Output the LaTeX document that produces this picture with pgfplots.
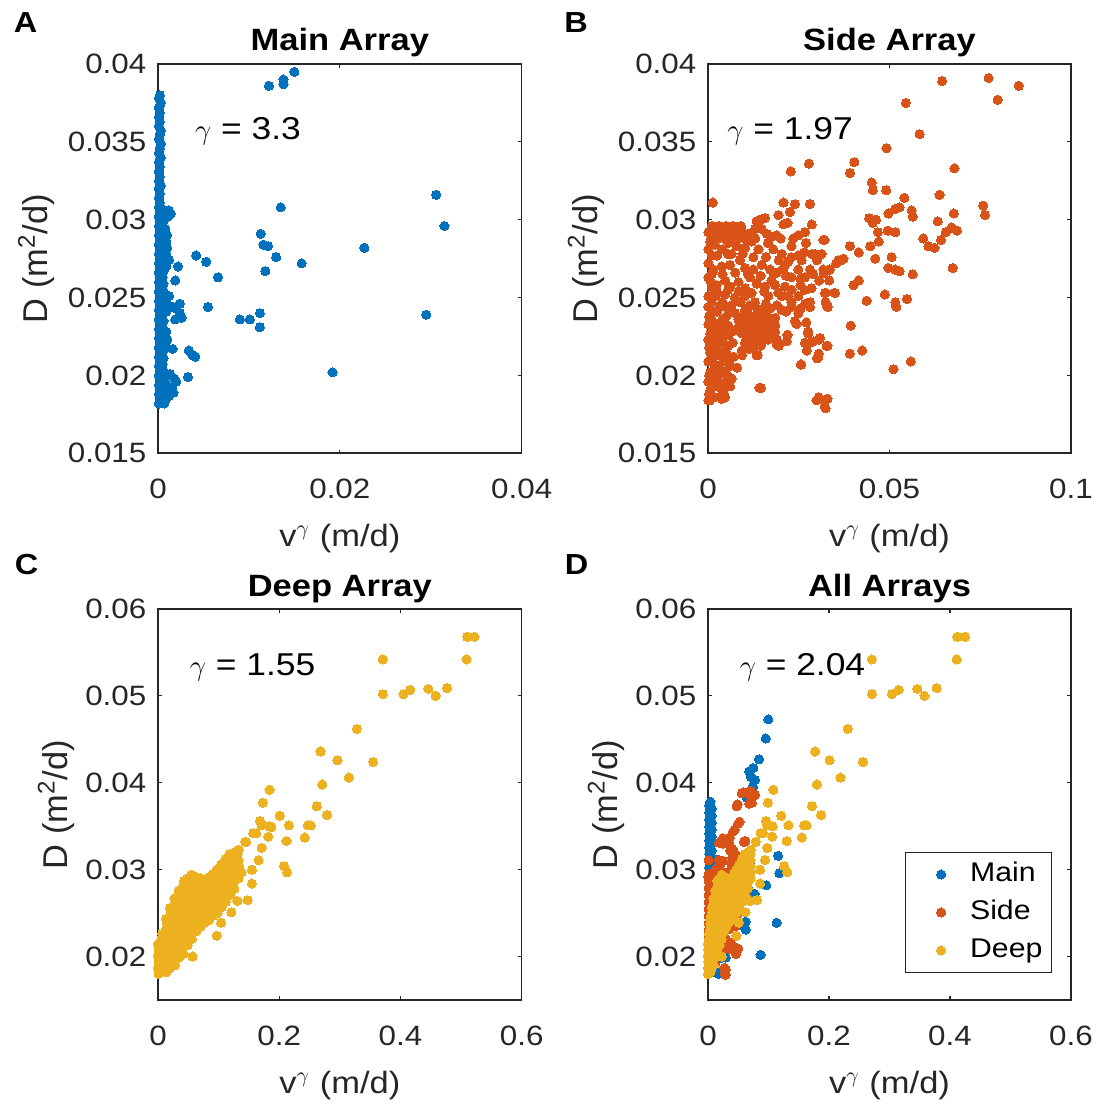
\documentclass[border=0pt]{standalone}
\usepackage{fontspec}
\setmainfont{Liberation Sans}[FakeStretch=1.12]
\newfontfamily\plainsans{Liberation Sans}
\usepackage{pgfplots}
\pgfplotsset{compat=1.18}
\definecolor{mblue}{rgb}{0,0.447,0.741}
\definecolor{morange}{rgb}{0.85,0.325,0.098}
\definecolor{myellow}{rgb}{0.929,0.694,0.125}
\definecolor{axgray}{rgb}{0.15,0.15,0.15}
\pgfplotsset{
 panel/.style={
  scale only axis, clip=false,
  axis line style={axgray,line width=0.8pt},
  every tick/.style={axgray,line width=0.6pt},
  tick align=inside, major tick length=1.8pt,
  scaled ticks=false,
  /pgf/number format/fixed, /pgf/number format/precision=3,
  /pgf/number format/assume math mode=true,
  tick label style={font=\fontsize{14}{16}\selectfont, text=axgray},
  xticklabel style={yshift=-9.3pt},
  yticklabel style={xshift=-2.3pt},
  xlabel={v$^{\gamma}$ (m/d)},
  ylabel={D (m\textsuperscript{2}/d)},
  xlabel style={font=\fontsize{15.4}{18}\selectfont, text=axgray, at={(axis description cs:0.5,0)}, anchor=base, yshift=-46.5pt},
  ylabel style={font=\plainsans\fontsize{17.2}{20}\selectfont, text=axgray, anchor=base},
  title style={font=\bfseries\fontsize{15.4}{18}\selectfont, at={(axis description cs:0.5,1)}, anchor=base, yshift=0.5pt},
  xmin=0, ymin=0.015,
 },
 mdot/.style={only marks, mark=*, mark size=2.3pt, color=#1, mark options={draw=#1, fill=#1, line width=0pt}},
 dotlegend/.style={legend image code/.code={\draw[##1, only marks, mark size=2.3pt] plot coordinates {(16pt,0pt)}; \path[draw=none] (0pt,0pt) -- (28pt,0pt);}},
}
\newcommand{\gfont}{\fontsize{15.8}{18}\selectfont}
\newcommand{\lfont}{\bfseries\fontsize{14.5}{17}\selectfont}
\begin{document}
\begin{tikzpicture}
% ---------------- A: Main Array ----------------
\begin{axis}[panel, at={(79pt,325.85pt)}, anchor=south west, width=181.85pt, height=194.65pt,
  xmax=0.04, ymax=0.04, xtick={0,0.02,0.04}, ytick={0.015,0.02,0.025,0.03,0.035,0.04},
  title={Main Array}, ylabel style={at={(axis description cs:-0.304,0.5)}}]
\addplot[mdot=mblue] coordinates {
(0.0001,0.0182)(0.0002,0.0185)(0.0001,0.0188)(0.0002,0.0191)(0.0001,0.0194)(0.0002,0.0197)(0.0001,0.0200)(0.0002,0.0203)(0.0001,0.0206)(0.0002,0.0209)
(0.0001,0.0212)(0.0002,0.0215)(0.0001,0.0218)(0.0002,0.0221)(0.0001,0.0224)(0.0002,0.0227)(0.0001,0.0230)(0.0002,0.0233)(0.0001,0.0236)(0.0002,0.0239)
(0.0001,0.0242)(0.0002,0.0245)(0.0001,0.0248)(0.0002,0.0251)(0.0001,0.0254)(0.0002,0.0257)(0.0001,0.0260)(0.0002,0.0263)(0.0001,0.0266)(0.0002,0.0269)
(0.0001,0.0272)(0.0002,0.0275)(0.0001,0.0278)(0.0002,0.0281)(0.0001,0.0284)(0.0002,0.0287)(0.0001,0.0290)(0.0002,0.0293)(0.0001,0.0296)(0.0002,0.0299)
(0.0001,0.0302)(0.0002,0.0305)(0.0001,0.0308)(0.0002,0.0311)(0.0001,0.0314)(0.0002,0.0317)(0.0001,0.0320)(0.0003,0.0322)(0.0001,0.0325)(0.0002,0.0328)
(0.0001,0.0331)(0.0002,0.0334)(0.0001,0.0337)(0.0003,0.0340)(0.0001,0.0343)(0.0002,0.0346)(0.0003,0.0349)(0.0001,0.0352)(0.0002,0.0355)(0.0003,0.0357)
(0.0001,0.0360)(0.0002,0.0363)(0.0001,0.0366)(0.0002,0.0369)(0.0001,0.0372)(0.0003,0.0375)(0.0001,0.0378)(0.0002,0.0380)
(0.0005,0.0183)(0.0006,0.0187)(0.0005,0.0191)(0.0006,0.0195)(0.0005,0.0199)(0.0006,0.0203)(0.0005,0.0207)(0.0006,0.0211)(0.0005,0.0215)(0.0006,0.0219)
(0.0005,0.0223)(0.0006,0.0227)(0.0005,0.0231)(0.0006,0.0235)(0.0005,0.0239)(0.0006,0.0243)(0.0005,0.0247)(0.0006,0.0251)(0.0005,0.0255)(0.0006,0.0259)
(0.0005,0.0263)(0.0006,0.0267)(0.0005,0.0271)(0.0006,0.0275)(0.0005,0.0279)(0.0006,0.0283)(0.0005,0.0287)(0.0006,0.0291)(0.0005,0.0295)(0.0006,0.0299)
(0.0005,0.0303)(0.0004,0.0307)
(0.0009,0.0185)(0.0010,0.0189)(0.0009,0.0194)(0.0008,0.0199)(0.0009,0.0218)(0.0010,0.0223)(0.0009,0.0228)(0.0009,0.0241)(0.0010,0.0246)(0.0009,0.0252)
(0.0009,0.0270)(0.0010,0.0274)(0.0009,0.0278)(0.0010,0.0282)(0.0009,0.0286)(0.0010,0.0290)(0.0008,0.0294)
(0.0150,0.0395)(0.0138,0.0390)(0.0138,0.0387)(0.0122,0.0386)(0.0306,0.0316)(0.0315,0.0296)(0.0135,0.0308)(0.0227,0.0282)(0.0158,0.0272)
(0.0113,0.0291)(0.0116,0.0284)(0.0121,0.0283)(0.0130,0.0276)(0.0118,0.0267)(0.0066,0.0263)(0.0053,0.0273)(0.0042,0.0277)(0.0055,0.0244)
(0.0090,0.0236)(0.0101,0.0236)(0.0112,0.0240)(0.0112,0.0231)(0.0295,0.0239)(0.0192,0.0202)(0.0033,0.0199)(0.0034,0.0216)(0.0038,0.0213)
(0.0041,0.0212)(0.0016,0.0217)(0.0022,0.0270)(0.0019,0.0261)(0.0012,0.0251)(0.0024,0.0246)(0.0016,0.0244)(0.0026,0.0237)(0.0019,0.0236)
(0.0012,0.0274)(0.0012,0.0306)(0.0011,0.0302)(0.0014,0.0304)(0.0018,0.0198)(0.0015,0.0192)(0.0017,0.0189)(0.0012,0.0187)(0.0007,0.0182)
(0.0013,0.0201)(0.0020,0.0196)(0.0024,0.0240)(0.0020,0.0243)
};
\node[anchor=base west, inner sep=0pt, font=\gfont] at (axis cs:0.00404,0.03512) {$\gamma$ = 3.3};
\end{axis}
% ---------------- B: Side Array ----------------
\begin{axis}[panel, at={(354pt,325.85pt)}, anchor=south west, width=181.5pt, height=194.65pt,
  xmax=0.1, ymax=0.04, xtick={0,0.05,0.1}, ytick={0.015,0.02,0.025,0.03,0.035,0.04},
  title={Side Array}, ylabel style={at={(axis description cs:-0.305,0.5)}}]
\addplot[mdot=morange] coordinates {
(0.0773,0.0391)(0.0856,0.0386)(0.0798,0.0377)(0.0645,0.0389)(0.0545,0.0375)(0.0583,0.0355)(0.0492,0.0346)(0.0679,0.0333)(0.0403,0.0337)(0.0391,0.0330)
(0.0278,0.0336)(0.0228,0.0331)(0.0013,0.0311)(0.0638,0.0316)(0.0541,0.0314)(0.0758,0.0309)(0.0763,0.0303)(0.0677,0.0304)(0.0451,0.0324)(0.0454,0.0319)
(0.0491,0.0319)(0.0516,0.0307)(0.0528,0.0308)(0.0497,0.0304)(0.0561,0.0306)(0.0564,0.0302)(0.0444,0.0301)(0.0463,0.0300)(0.0454,0.0298)(0.0468,0.0292)
(0.0495,0.0293)(0.0516,0.0292)(0.0633,0.0299)(0.0655,0.0292)(0.0671,0.0295)(0.0686,0.0293)(0.0642,0.0287)(0.0593,0.0288)(0.0607,0.0283)(0.0624,0.0282)
(0.0674,0.0269)(0.0564,0.0265)(0.0506,0.0276)(0.0497,0.0269)(0.0516,0.0268)(0.0528,0.0267)(0.0470,0.0286)(0.0447,0.0283)(0.0461,0.0275)(0.0487,0.0252)
(0.0516,0.0247)(0.0519,0.0244)(0.0548,0.0249)(0.0437,0.0248)(0.0415,0.0261)(0.0401,0.0258)(0.0391,0.0283)(0.0415,0.0279)(0.0353,0.0272)(0.0367,0.0274)
(0.0334,0.0268)(0.0319,0.0266)(0.0321,0.0287)(0.0313,0.0278)(0.0300,0.0274)(0.0334,0.0261)(0.0324,0.0253)(0.0348,0.0253)(0.0324,0.0247)(0.0329,0.0244)
(0.0393,0.0232)(0.0391,0.0214)(0.0425,0.0216)(0.0511,0.0204)(0.0559,0.0209)(0.0305,0.0186)(0.0329,0.0185)(0.0324,0.0179)(0.0142,0.0192)(0.0137,0.0213)
(0.0257,0.0207)(0.0300,0.0211)(0.0305,0.0214)(0.0329,0.0219)(0.0281,0.0221)(0.0305,0.0223)(0.0276,0.0228)(0.0195,0.0219)(0.0219,0.0226)(0.0190,0.0223)
(0.0271,0.0234)(0.0094,0.0213)(0.0035,0.0186)(0.0045,0.0187)(0.0005,0.0184)
(0.0208,0.0311)(0.0240,0.0310)(0.0281,0.0310)(0.0226,0.0305)(0.0194,0.0303)(0.0157,0.0301)(0.0134,0.0299)(0.0143,0.0300)(0.0219,0.0298)(0.0286,0.0297)(0.0267,0.0292)(0.0249,0.0290)
(0.0001,0.0292)(0.0019,0.0293)(0.0038,0.0292)(0.0056,0.0293)(0.0074,0.0292)(0.0093,0.0293)(0.0111,0.0291)(0.0129,0.0294)(0.0148,0.0294)(0.0162,0.0291)(0.0175,0.0289)(0.0189,0.0290)(0.0208,0.0297)(0.0010,0.0289)(0.0006,0.0286)
(0.0001,0.0281)(0.0019,0.0284)(0.0056,0.0285)(0.0079,0.0283)(0.0102,0.0282)(0.0120,0.0286)(0.0139,0.0281)(0.0180,0.0281)(0.0203,0.0278)(0.0230,0.0283)(0.0249,0.0277)(0.0286,0.0278)(0.0258,0.0274)(0.0221,0.0273)
(0.0001,0.0272)(0.0015,0.0268)(0.0038,0.0270)(0.0061,0.0271)(0.0088,0.0274)(0.0102,0.0269)(0.0125,0.0268)(0.0148,0.0271)(0.0171,0.0268)(0.0189,0.0266)(0.0208,0.0269)(0.0230,0.0263)(0.0249,0.0268)(0.0267,0.0263)(0.0281,0.0268)(0.0295,0.0278)
(0.0006,0.0261)(0.0024,0.0258)(0.0047,0.0261)(0.0061,0.0257)(0.0084,0.0260)(0.0102,0.0256)(0.0116,0.0263)(0.0134,0.0259)(0.0157,0.0257)(0.0175,0.0261)(0.0194,0.0253)(0.0212,0.0257)
(0.0230,0.0255)(0.0249,0.0251)(0.0267,0.0255)(0.0281,0.0247)(0.0019,0.0251)(0.0047,0.0252)(0.0074,0.0250)(0.0102,0.0251)(0.0129,0.0247)(0.0166,0.0251)(0.0203,0.0251)(0.0230,0.0247)
(0.0001,0.0244)(0.0015,0.0241)(0.0033,0.0244)(0.0051,0.0238)(0.0074,0.0240)(0.0102,0.0242)(0.0125,0.0238)(0.0148,0.0241)(0.0171,0.0243)(0.0185,0.0237)(0.0203,0.0242)(0.0230,0.0244)(0.0249,0.0240)(0.0267,0.0246)(0.0281,0.0244)
(0.0084,0.0236)(0.0102,0.0233)(0.0116,0.0236)(0.0129,0.0231)(0.0148,0.0235)(0.0162,0.0231)(0.0175,0.0233)(0.0093,0.0227)(0.0111,0.0225)(0.0129,0.0227)(0.0148,0.0226)(0.0166,0.0228)
(0.0102,0.0221)(0.0120,0.0220)(0.0139,0.0222)(0.0093,0.0216)(0.0185,0.0223)(0.0189,0.0220)(0.0019,0.0233)(0.0038,0.0231)(0.0056,0.0232)(0.0074,0.0229)(0.0006,0.0227)(0.0028,0.0225)(0.0056,0.0226)(0.0240,0.0235)
(0.0001,0.0223)(0.0019,0.0221)(0.0042,0.0221)(0.0006,0.0215)(0.0028,0.0213)(0.0051,0.0214)(0.0001,0.0209)(0.0019,0.0207)(0.0042,0.0209)(0.0061,0.0206)(0.0006,0.0202)(0.0028,0.0200)
(0.0051,0.0201)(0.0065,0.0198)(0.0001,0.0196)(0.0019,0.0195)(0.0042,0.0195)(0.0061,0.0193)(0.0006,0.0190)(0.0001,0.0184)(0.0019,0.0186)(0.0038,0.0185)(0.0047,0.0186)(0.0001,0.0233)
(0.0015,0.0231)(0.0001,0.0251)(0.0010,0.0257)(0.0001,0.0263)(0.0003,0.0238)(0.0003,0.0218)(0.0003,0.0200)(0.0003,0.0188)
(0.0134,0.0213)(0.0146,0.0192)(0.0256,0.0207)(0.0276,0.0227)(0.0290,0.0222)(0.0309,0.0224)(0.0304,0.0212)(0.0327,0.0219)(0.0267,0.0221)(0.0272,0.0216)(0.0299,0.0184)(0.0322,0.0184)
(0.0322,0.0180)(0.0318,0.0287)(0.0306,0.0261)(0.0318,0.0268)(0.0336,0.0268)(0.0350,0.0253)(0.0322,0.0253)(0.0330,0.0244)(0.0359,0.0274)(0.0373,0.0275)(0.0244,0.0233)(0.0217,0.0222)
(0.0010,0.0187)(0.0040,0.0190)(0.0025,0.0193)(0.0055,0.0196)(0.0010,0.0199)(0.0040,0.0203)(0.0025,0.0205)(0.0055,0.0209)(0.0010,0.0211)(0.0040,0.0215)
(0.0025,0.0217)(0.0055,0.0219)(0.0010,0.0219)(0.0040,0.0225)(0.0025,0.0229)(0.0055,0.0229)(0.0010,0.0236)(0.0040,0.0236)(0.0025,0.0241)(0.0055,0.0243)
(0.0010,0.0247)(0.0040,0.0247)(0.0025,0.0253)(0.0055,0.0255)(0.0010,0.0265)(0.0040,0.0265)(0.0025,0.0277)(0.0055,0.0278)(0.0010,0.0277)(0.0040,0.0281)
(0.0025,0.0289)(0.0055,0.0289)
(0.0028,0.0288)(0.0047,0.0288)(0.0065,0.0288)(0.0084,0.0288)(0.0102,0.0288)(0.0120,0.0290)(0.0010,0.0296)(0.0030,0.0296)(0.0050,0.0296)(0.0070,0.0296)(0.0090,0.0296)
(0.0130,0.0288)(0.0165,0.0285)(0.0200,0.0288)(0.0235,0.0288)(0.0270,0.0285)
(0.0065,0.0278)(0.0095,0.0278)(0.0125,0.0276)(0.0160,0.0276)(0.0195,0.0274)(0.0230,0.0276)(0.0265,0.0279)
(0.0075,0.0266)(0.0110,0.0265)(0.0145,0.0264)(0.0180,0.0266)(0.0215,0.0264)(0.0255,0.0262)(0.0290,0.0265)
(0.0085,0.0254)(0.0120,0.0253)(0.0155,0.0254)(0.0185,0.0258)(0.0220,0.0251)(0.0255,0.0258)(0.0285,0.0256)
(0.0065,0.0245)(0.0090,0.0247)(0.0115,0.0245)(0.0135,0.0243)(0.0160,0.0246)(0.0190,0.0245)(0.0215,0.0241)(0.0255,0.0243)
(0.0095,0.0238)(0.0110,0.0240)(0.0125,0.0234)(0.0140,0.0238)(0.0155,0.0238)(0.0170,0.0237)(0.0185,0.0232)
(0.0095,0.0230)(0.0110,0.0229)(0.0125,0.0230)(0.0140,0.0231)(0.0155,0.0229)(0.0170,0.0225)(0.0185,0.0228)
(0.0105,0.0223)(0.0118,0.0224)(0.0132,0.0225)(0.0150,0.0222)(0.0165,0.0223)(0.0112,0.0217)(0.0128,0.0218)(0.0145,0.0219)
(0.0045,0.0236)(0.0065,0.0228)(0.0085,0.0231)(0.0068,0.0221)(0.0070,0.0212)(0.0080,0.0205)
};
\node[anchor=base west, inner sep=0pt, font=\gfont] at (axis cs:0.00523,0.03512) {$\gamma$ = 1.97};
\end{axis}
% ---------------- C: Deep Array ----------------
\begin{axis}[panel, at={(79pt,52.5pt)}, anchor=south west, width=181.85pt, height=195.5pt,
  xmax=0.6, ymax=0.06, xtick={0,0.2,0.4,0.6}, ytick={0.02,0.03,0.04,0.05,0.06},
  title={Deep Array}, ylabel style={at={(axis description cs:-0.25,0.5)}}]
\addplot[mdot=myellow] coordinates {
(0.001,0.0180)(0.000,0.0187)(0.001,0.0194)(0.000,0.0201)(0.001,0.0208)(0.000,0.0214)
(0.007,0.0184)(0.006,0.0191)(0.008,0.0198)(0.006,0.0205)(0.007,0.0212)(0.005,0.0219)(0.007,0.0226)
(0.014,0.0182)(0.013,0.0189)(0.015,0.0196)(0.013,0.0203)(0.014,0.0210)(0.012,0.0217)(0.014,0.0224)(0.013,0.0231)(0.015,0.0238)(0.013,0.0243)
(0.020,0.0187)(0.022,0.0194)(0.021,0.0201)(0.019,0.0208)(0.021,0.0215)(0.022,0.0222)(0.020,0.0229)(0.021,0.0236)(0.019,0.0243)(0.021,0.0250)(0.020,0.0256)
(0.028,0.0190)(0.027,0.0197)(0.029,0.0204)(0.028,0.0211)(0.026,0.0218)(0.028,0.0225)(0.029,0.0232)(0.027,0.0239)(0.028,0.0246)(0.026,0.0253)(0.028,0.0260)(0.027,0.0267)
(0.035,0.0199)(0.034,0.0206)(0.036,0.0213)(0.035,0.0220)(0.033,0.0227)(0.035,0.0234)(0.036,0.0241)(0.034,0.0248)(0.035,0.0255)(0.033,0.0262)(0.035,0.0269)(0.034,0.0276)
(0.042,0.0203)(0.041,0.0210)(0.043,0.0217)(0.042,0.0224)(0.040,0.0231)(0.042,0.0238)(0.043,0.0245)(0.041,0.0252)(0.042,0.0259)(0.040,0.0266)(0.042,0.0273)(0.041,0.0280)(0.043,0.0287)
(0.049,0.0213)(0.048,0.0220)(0.050,0.0227)(0.049,0.0234)(0.047,0.0241)(0.049,0.0248)(0.050,0.0255)(0.048,0.0262)(0.049,0.0269)(0.047,0.0276)(0.049,0.0283)(0.048,0.0290)
(0.056,0.0220)(0.055,0.0227)(0.057,0.0234)(0.056,0.0241)(0.054,0.0248)(0.056,0.0255)(0.057,0.0262)(0.055,0.0269)(0.056,0.0276)(0.054,0.0283)(0.056,0.0290)(0.055,0.0294)
(0.063,0.0229)(0.062,0.0236)(0.064,0.0243)(0.063,0.0250)(0.061,0.0257)(0.063,0.0264)(0.064,0.0271)(0.062,0.0278)(0.063,0.0285)(0.061,0.0292)
(0.070,0.0234)(0.069,0.0241)(0.071,0.0248)(0.070,0.0255)(0.068,0.0262)(0.070,0.0269)(0.071,0.0276)(0.069,0.0283)(0.070,0.0290)
(0.077,0.0239)(0.076,0.0246)(0.078,0.0253)(0.077,0.0260)(0.075,0.0267)(0.077,0.0274)(0.078,0.0281)(0.076,0.0288)
(0.084,0.0242)(0.083,0.0249)(0.085,0.0256)(0.084,0.0263)(0.082,0.0270)(0.084,0.0277)(0.085,0.0284)(0.083,0.0291)
(0.091,0.0247)(0.090,0.0254)(0.092,0.0261)(0.091,0.0268)(0.089,0.0275)(0.091,0.0282)(0.092,0.0289)(0.090,0.0295)
(0.098,0.0250)(0.097,0.0257)(0.099,0.0264)(0.098,0.0271)(0.096,0.0278)(0.098,0.0285)(0.099,0.0292)(0.097,0.0300)
(0.105,0.0257)(0.104,0.0264)(0.106,0.0271)(0.105,0.0278)(0.103,0.0285)(0.105,0.0292)(0.106,0.0299)(0.104,0.0306)
(0.112,0.0263)(0.111,0.0270)(0.113,0.0277)(0.112,0.0284)(0.110,0.0291)(0.112,0.0298)(0.113,0.0305)(0.111,0.0312)
(0.119,0.0271)(0.118,0.0278)(0.120,0.0285)(0.119,0.0292)(0.117,0.0299)(0.119,0.0306)(0.120,0.0313)(0.118,0.0318)
(0.126,0.0278)(0.125,0.0285)(0.127,0.0292)(0.126,0.0299)(0.124,0.0306)(0.126,0.0313)(0.127,0.0320)
(0.133,0.0290)(0.132,0.0297)(0.134,0.0304)(0.133,0.0311)(0.131,0.0318)(0.133,0.0323)
(0.510,0.0568)(0.522,0.0568)(0.509,0.0542)(0.371,0.0542)(0.371,0.0502)(0.405,0.0502)(0.416,0.0507)(0.446,0.0508)(0.458,0.0500)(0.477,0.0509)
(0.328,0.0462)(0.268,0.0436)(0.296,0.0426)(0.355,0.0424)(0.315,0.0406)(0.271,0.0398)(0.262,0.0373)(0.279,0.0363)(0.184,0.0392)(0.173,0.0377)
(0.201,0.0362)(0.216,0.0351)(0.212,0.0333)(0.208,0.0304)(0.213,0.0297)(0.247,0.0351)(0.252,0.0351)(0.242,0.0337)(0.168,0.0356)(0.183,0.0350)
(0.182,0.0338)(0.171,0.0325)(0.166,0.0311)(0.155,0.0300)(0.155,0.0284)(0.148,0.0265)(0.131,0.0264)(0.121,0.0251)(0.104,0.0239)(0.097,0.0224)
(0.057,0.0200)(0.145,0.0332)(0.157,0.0342)(0.162,0.0342)(0.171,0.0351)(0.187,0.0349)(0.144,0.0332)(0.169,0.0355)(0.138,0.0297)
};
\node[anchor=base west, inner sep=0pt, font=\gfont] at (axis cs:0.0519,0.0523) {$\gamma$ = 1.55};
\end{axis}
% ---------------- D: All Arrays ----------------
\begin{axis}[panel, at={(354pt,52.5pt)}, anchor=south west, width=181.5pt, height=195.5pt,
  xmax=0.6, ymax=0.06, xtick={0,0.2,0.4,0.6}, ytick={0.02,0.03,0.04,0.05,0.06},
  title={All Arrays}, ylabel style={at={(axis description cs:-0.25,0.5)}},
  legend style={at={(0.9477,0.069)}, anchor=south east, draw=axgray, line width=0.6pt,
    font=\fontsize{13.5}{16}\selectfont, inner xsep=2pt, inner ysep=1.5pt,
    nodes={text height=10.5pt, text depth=3.5pt, inner sep=2.5pt}},
  legend cell align=left]
\addplot[mdot=mblue, dotlegend] coordinates {
(0.002,0.0182)(0.006,0.0186)(0.002,0.0190)(0.006,0.0194)(0.002,0.0198)(0.006,0.0202)(0.002,0.0206)(0.006,0.0210)(0.002,0.0214)(0.006,0.0218)
(0.002,0.0222)(0.006,0.0226)(0.002,0.0230)(0.006,0.0234)(0.002,0.0238)(0.006,0.0242)(0.002,0.0246)(0.006,0.0250)(0.002,0.0254)(0.006,0.0258)
(0.002,0.0262)(0.006,0.0266)(0.002,0.0270)(0.006,0.0274)(0.002,0.0278)(0.006,0.0282)(0.002,0.0286)(0.006,0.0290)(0.002,0.0294)(0.006,0.0298)
(0.002,0.0302)(0.006,0.0306)(0.002,0.0310)(0.006,0.0314)(0.002,0.0318)(0.006,0.0322)(0.002,0.0326)(0.006,0.0330)(0.002,0.0334)(0.006,0.0338)
(0.002,0.0342)(0.006,0.0346)(0.002,0.0350)(0.006,0.0354)(0.002,0.0358)(0.006,0.0362)(0.002,0.0366)(0.006,0.0370)(0.002,0.0374)(0.004,0.0378)
(0.009,0.0300)(0.009,0.0306)(0.010,0.0312)(0.009,0.0290)
(0.0746,0.0395)(0.0709,0.0390)(0.0709,0.0387)(0.0657,0.0386)(0.1159,0.0316)(0.1180,0.0296)(0.0700,0.0308)(0.0964,0.0282)(0.0770,0.0272)
(0.0626,0.0291)(0.0636,0.0284)(0.0650,0.0283)(0.0683,0.0276)(0.0643,0.0267)(0.0449,0.0263)(0.0392,0.0273)(0.0340,0.0277)(0.0401,0.0244)
(0.0544,0.0236)(0.0584,0.0236)(0.0622,0.0240)(0.0622,0.0231)(0.1134,0.0239)(0.0869,0.0202)(0.0293,0.0199)(0.0298,0.0216)(0.0319,0.0213)
(0.0187,0.0217)(0.0228,0.0270)(0.0208,0.0261)(0.0157,0.0251)(0.0240,0.0246)(0.0157,0.0306)(0.0201,0.0198)(0.0112,0.0182)(0.0171,0.0180)(0.0273,0.0185)
(0.0997,0.0473)(0.0953,0.0451)(0.0843,0.0427)(0.0749,0.0417)(0.0678,0.0413)(0.0705,0.0407)(0.0777,0.0403)(0.0740,0.0396)(0.0640,0.0383)
};
\addlegendentry{Main}
\addplot[mdot=morange, dotlegend] coordinates {
(0.001,0.0183)(0.004,0.0187)(0.001,0.0191)(0.004,0.0195)(0.001,0.0199)(0.004,0.0203)(0.001,0.0207)(0.004,0.0211)(0.001,0.0215)(0.004,0.0219)
(0.001,0.0223)(0.004,0.0227)(0.001,0.0231)(0.004,0.0235)(0.001,0.0239)(0.004,0.0243)(0.001,0.0247)(0.004,0.0251)(0.001,0.0255)(0.004,0.0259)
(0.001,0.0263)(0.004,0.0267)(0.001,0.0271)(0.004,0.0275)(0.001,0.0279)(0.004,0.0283)(0.001,0.0287)(0.004,0.0291)(0.001,0.0295)
(0.0182,0.0311)(0.0210,0.0310)(0.0246,0.0310)(0.0198,0.0305)(0.0170,0.0303)(0.0137,0.0301)(0.0114,0.0299)(0.0122,0.0300)(0.0192,0.0298)(0.0250,0.0297)(0.0234,0.0292)(0.0218,0.0290)
(0.0001,0.0292)(0.0015,0.0293)(0.0030,0.0292)(0.0048,0.0293)(0.0063,0.0292)(0.0079,0.0293)(0.0094,0.0291)(0.0110,0.0294)(0.0126,0.0294)(0.0142,0.0291)(0.0153,0.0289)(0.0165,0.0290)
(0.0048,0.0285)(0.0067,0.0283)(0.0087,0.0282)(0.0102,0.0286)(0.0118,0.0281)(0.0158,0.0281)(0.0178,0.0278)(0.0201,0.0283)(0.0218,0.0277)(0.0250,0.0278)(0.0226,0.0274)(0.0193,0.0273)
(0.0030,0.0270)(0.0052,0.0271)(0.0075,0.0274)(0.0087,0.0269)(0.0106,0.0268)(0.0126,0.0271)(0.0150,0.0268)(0.0165,0.0266)(0.0182,0.0269)(0.0201,0.0263)(0.0218,0.0268)(0.0234,0.0263)
(0.0246,0.0268)(0.0258,0.0278)(0.0040,0.0261)(0.0071,0.0260)(0.0099,0.0263)(0.0114,0.0259)(0.0153,0.0261)(0.0186,0.0257)(0.0201,0.0255)(0.0234,0.0255)(0.0170,0.0253)(0.0218,0.0251)
(0.0703,0.0391)(0.0779,0.0386)(0.0726,0.0377)(0.0587,0.0389)(0.0488,0.0375)(0.0522,0.0355)(0.0440,0.0346)(0.0618,0.0333)(0.0361,0.0337)(0.0350,0.0330)
(0.0243,0.0336)(0.0200,0.0331)(0.0010,0.0311)(0.0581,0.0316)(0.0484,0.0314)(0.0690,0.0309)(0.0694,0.0303)(0.0616,0.0304)(0.0404,0.0324)(0.0406,0.0319)
(0.0439,0.0319)(0.0462,0.0307)(0.0473,0.0308)(0.0445,0.0304)(0.0502,0.0306)(0.0505,0.0302)(0.0397,0.0301)(0.0414,0.0300)(0.0406,0.0298)(0.0419,0.0292)
(0.0443,0.0293)(0.0462,0.0292)(0.0576,0.0299)(0.0596,0.0292)(0.0611,0.0295)(0.0624,0.0293)(0.0584,0.0287)(0.0531,0.0288)(0.0552,0.0283)(0.0568,0.0282)
(0.0613,0.0269)(0.0505,0.0265)(0.0453,0.0276)(0.0445,0.0269)(0.0462,0.0268)(0.0473,0.0267)(0.0421,0.0286)(0.0400,0.0283)(0.0413,0.0275)(0.0436,0.0252)
(0.0462,0.0247)(0.0465,0.0244)(0.0490,0.0249)(0.0391,0.0248)(0.0371,0.0261)(0.0359,0.0258)(0.0350,0.0283)(0.0371,0.0279)(0.0316,0.0272)(0.0328,0.0274)
(0.0299,0.0268)(0.0286,0.0266)(0.0287,0.0287)(0.0280,0.0278)(0.0263,0.0274)(0.0299,0.0261)(0.0290,0.0253)(0.0311,0.0253)(0.0290,0.0247)(0.0294,0.0244)
(0.0352,0.0232)(0.0350,0.0214)(0.0380,0.0216)(0.0457,0.0204)(0.0500,0.0209)(0.0273,0.0186)(0.0294,0.0185)(0.0290,0.0179)(0.0121,0.0192)(0.0116,0.0213)
(0.0225,0.0207)(0.0263,0.0211)(0.0267,0.0214)(0.0294,0.0219)(0.0246,0.0221)(0.0267,0.0223)(0.0242,0.0228)(0.0171,0.0219)(0.0192,0.0226)(0.0166,0.0223)(0.0237,0.0234)
(0.0557,0.0388)(0.0667,0.0389)(0.0705,0.0385)(0.0683,0.0376)(0.0474,0.0373)(0.0501,0.0353)(0.0419,0.0344)(0.0595,0.0332)(0.0182,0.0331)(0.0253,0.0330)
(0.0325,0.0330)(0.0364,0.0322)(0.0402,0.0314)(0.0395,0.0307)(0.0380,0.0301)(0.0474,0.0247)(0.0463,0.0235)(0.0364,0.0214)(0.0353,0.0209)(0.0474,0.0210)
(0.0463,0.0203)(0.0281,0.0180)(0.0273,0.0187)(0.0667,0.0266)(0.0501,0.0268)
};
\addlegendentry{Side}
\addplot[mdot=myellow, dotlegend] coordinates {
(0.0002,0.0180)(0.0000,0.0187)(0.0002,0.0194)(0.0000,0.0201)(0.0002,0.0208)(0.0000,0.0214)
(0.0015,0.0184)(0.0012,0.0191)(0.0018,0.0198)(0.0012,0.0205)(0.0015,0.0212)(0.0010,0.0219)(0.0015,0.0226)
(0.0036,0.0182)(0.0036,0.0189)(0.0036,0.0196)(0.0036,0.0203)(0.0036,0.0210)(0.0036,0.0217)(0.0036,0.0224)(0.0036,0.0231)(0.0036,0.0238)(0.0036,0.0243)
(0.0062,0.0187)(0.0062,0.0194)(0.0062,0.0201)(0.0062,0.0208)(0.0062,0.0215)(0.0062,0.0222)(0.0062,0.0229)(0.0062,0.0236)(0.0062,0.0243)(0.0062,0.0250)(0.0062,0.0256)
(0.0090,0.0190)(0.0090,0.0197)(0.0090,0.0204)(0.0090,0.0211)(0.0090,0.0218)(0.0090,0.0225)(0.0090,0.0232)(0.0090,0.0239)(0.0090,0.0246)(0.0090,0.0253)(0.0090,0.0260)(0.0090,0.0267)
(0.0121,0.0199)(0.0121,0.0206)(0.0121,0.0213)(0.0121,0.0220)(0.0121,0.0227)(0.0121,0.0234)(0.0121,0.0241)(0.0121,0.0248)(0.0121,0.0255)(0.0121,0.0262)(0.0121,0.0269)(0.0121,0.0276)
(0.0154,0.0203)(0.0154,0.0210)(0.0154,0.0217)(0.0154,0.0224)(0.0154,0.0231)(0.0154,0.0238)(0.0154,0.0245)(0.0154,0.0252)(0.0154,0.0259)(0.0154,0.0266)(0.0154,0.0273)(0.0154,0.0280)(0.0154,0.0287)
(0.0189,0.0213)(0.0189,0.0220)(0.0189,0.0227)(0.0189,0.0234)(0.0189,0.0241)(0.0189,0.0248)(0.0189,0.0255)(0.0189,0.0262)(0.0189,0.0269)(0.0189,0.0276)(0.0189,0.0283)(0.0189,0.0290)
(0.0225,0.0220)(0.0225,0.0227)(0.0225,0.0234)(0.0225,0.0241)(0.0225,0.0248)(0.0225,0.0255)(0.0225,0.0262)(0.0225,0.0269)(0.0225,0.0276)(0.0225,0.0283)(0.0225,0.0290)(0.0225,0.0294)
(0.0263,0.0229)(0.0263,0.0236)(0.0263,0.0243)(0.0263,0.0250)(0.0263,0.0257)(0.0263,0.0264)(0.0263,0.0271)(0.0263,0.0278)(0.0263,0.0285)(0.0263,0.0292)
(0.0302,0.0234)(0.0302,0.0241)(0.0302,0.0248)(0.0302,0.0255)(0.0302,0.0262)(0.0302,0.0269)(0.0302,0.0276)(0.0302,0.0283)(0.0302,0.0290)
(0.0343,0.0239)(0.0343,0.0246)(0.0343,0.0253)(0.0343,0.0260)(0.0343,0.0267)(0.0343,0.0274)(0.0343,0.0281)(0.0343,0.0288)
(0.0384,0.0242)(0.0384,0.0249)(0.0384,0.0256)(0.0384,0.0263)(0.0384,0.0270)(0.0384,0.0277)(0.0384,0.0284)(0.0384,0.0291)
(0.0427,0.0247)(0.0427,0.0254)(0.0427,0.0261)(0.0427,0.0268)(0.0427,0.0275)(0.0427,0.0282)(0.0427,0.0289)(0.0427,0.0295)
(0.0470,0.0250)(0.0470,0.0257)(0.0470,0.0264)(0.0470,0.0271)(0.0470,0.0278)(0.0470,0.0285)(0.0470,0.0292)(0.0470,0.0300)
(0.0515,0.0257)(0.0515,0.0264)(0.0515,0.0271)(0.0515,0.0278)(0.0515,0.0285)(0.0515,0.0292)(0.0515,0.0299)(0.0515,0.0306)
(0.0561,0.0263)(0.0561,0.0270)(0.0561,0.0277)(0.0561,0.0284)(0.0561,0.0291)(0.0561,0.0298)(0.0561,0.0305)(0.0561,0.0312)
(0.0607,0.0271)(0.0607,0.0278)(0.0607,0.0285)(0.0607,0.0292)(0.0607,0.0299)(0.0607,0.0306)(0.0607,0.0313)(0.0607,0.0318)
(0.0655,0.0278)(0.0655,0.0285)(0.0655,0.0292)(0.0655,0.0299)(0.0655,0.0306)(0.0655,0.0313)(0.0655,0.0320)
(0.0703,0.0290)(0.0703,0.0297)(0.0703,0.0304)(0.0703,0.0311)(0.0703,0.0318)(0.0703,0.0323)
(0.412,0.0568)(0.425,0.0568)(0.411,0.0542)(0.271,0.0542)(0.271,0.0502)(0.304,0.0502)(0.315,0.0507)(0.346,0.0508)(0.358,0.0500)(0.378,0.0509)
(0.231,0.0462)(0.177,0.0436)(0.201,0.0426)(0.256,0.0424)(0.219,0.0406)(0.180,0.0398)(0.172,0.0373)(0.187,0.0363)(0.108,0.0392)(0.099,0.0377)
(0.121,0.0362)(0.133,0.0351)(0.130,0.0333)(0.126,0.0304)(0.131,0.0297)(0.159,0.0351)(0.163,0.0351)(0.155,0.0337)(0.096,0.0356)(0.107,0.0350)
(0.106,0.0338)(0.098,0.0325)(0.094,0.0311)(0.086,0.0300)(0.086,0.0284)(0.081,0.0265)(0.069,0.0264)(0.062,0.0251)(0.051,0.0239)(0.047,0.0224)
(0.023,0.0200)(0.079,0.0332)(0.087,0.0342)(0.091,0.0342)(0.098,0.0351)
};
\addlegendentry{Deep}
\node[anchor=base west, inner sep=0pt, font=\gfont] at (axis cs:0.0519,0.0523) {$\gamma$ = 2.04};
\end{axis}
% panel letters
\node[font=\lfont, anchor=base] at (12.75pt,536pt) {A};
\node[font=\lfont, anchor=base] at (288pt,536pt) {B};
\node[font=\lfont, anchor=base] at (13.25pt,265pt) {C};
\node[font=\lfont, anchor=base] at (288.25pt,265pt) {D};
\pgfresetboundingbox
\path[use as bounding box] (0pt,0pt) rectangle (548pt,552.5pt);
\end{tikzpicture}
\end{document}
